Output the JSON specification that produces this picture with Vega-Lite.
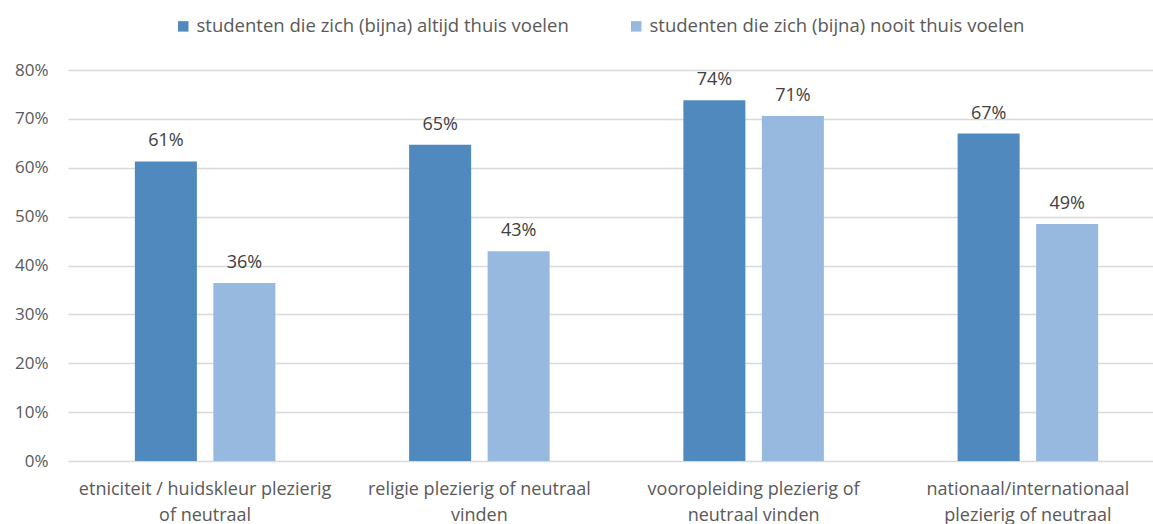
{
  "$schema": "https://vega.github.io/schema/vega-lite/v6.json",
  "width": 1097,
  "height": 391,
  "autosize": {"type": "none"},
  "padding": {"left": 68, "top": 70, "right": 0, "bottom": 63},
  "background": "white",
  "config": {
    "view": {"stroke": null},
    "font": "Open Sans",
    "axis": {"labelFont": "Open Sans", "labelColor": "#595959"},
    "legend": {"labelFont": "Open Sans"}
  },
  "data": {
    "values": [
      {"category": "etniciteit / huidskleur plezierig\nof neutraal", "series": "studenten die zich (bijna) altijd thuis voelen", "value": 0.613},
      {"category": "etniciteit / huidskleur plezierig\nof neutraal", "series": "studenten die zich (bijna) nooit thuis voelen", "value": 0.364},
      {"category": "religie plezierig of neutraal\nvinden", "series": "studenten die zich (bijna) altijd thuis voelen", "value": 0.647},
      {"category": "religie plezierig of neutraal\nvinden", "series": "studenten die zich (bijna) nooit thuis voelen", "value": 0.429},
      {"category": "vooropleiding plezierig of\nneutraal vinden", "series": "studenten die zich (bijna) altijd thuis voelen", "value": 0.738},
      {"category": "vooropleiding plezierig of\nneutraal vinden", "series": "studenten die zich (bijna) nooit thuis voelen", "value": 0.706},
      {"category": "nationaal/internationaal\nplezierig of neutraal", "series": "studenten die zich (bijna) altijd thuis voelen", "value": 0.670},
      {"category": "nationaal/internationaal\nplezierig of neutraal", "series": "studenten die zich (bijna) nooit thuis voelen", "value": 0.485}
    ]
  },
  "encoding": {
    "x": {
      "field": "category", "type": "nominal", "sort": null, "title": null,
      "scale": {"paddingInner": 0, "paddingOuter": 0},
      "axis": {
        "labelAngle": 0, "domain": false, "ticks": false, "labelFontSize": 18,
        "labelPadding": 19, "labelLineHeight": 26, "labelLimit": 0,
        "labelExpr": "split(datum.value, '\\n')"
      }
    },
    "xOffset": {
      "field": "series", "type": "nominal", "sort": null,
      "scale": {"paddingInner": 0.21, "paddingOuter": 0.852}
    },
    "y": {
      "field": "value", "type": "quantitative", "title": null,
      "scale": {"domain": [0, 0.8], "nice": false},
      "axis": {
        "format": ".0%", "values": [0, 0.1, 0.2, 0.3, 0.4, 0.5, 0.6, 0.7, 0.8],
        "labelOverlap": false,
        "domain": false, "ticks": false, "labelFontSize": 17, "labelPadding": 20,
        "gridColor": "#d9d9d9", "gridWidth": 1.3
      }
    }
  },
  "layer": [
    {
      "mark": {"type": "bar"},
      "encoding": {
        "color": {
          "field": "series", "type": "nominal", "sort": null,
          "scale": {"range": ["#4F89BD", "#97B9E0"]},
          "legend": {
            "title": null, "orient": "none", "direction": "horizontal",
            "legendX": 106, "legendY": -53,
            "symbolType": "square", "symbolSize": 110, "symbolStrokeWidth": 0,
            "labelFontSize": 18.5, "labelColor": "#595959", "columnPadding": 58,
            "labelOffset": 4, "labelLimit": 0
          }
        }
      }
    },
    {
      "mark": {"type": "text", "baseline": "bottom", "dy": -11, "fontSize": 18, "color": "#404040"},
      "encoding": {
        "text": {"field": "value", "type": "quantitative", "format": ".0%"}
      }
    }
  ]
}
